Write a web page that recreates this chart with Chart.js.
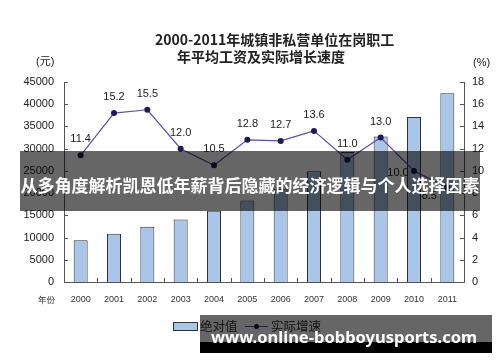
<!DOCTYPE html>
<html>
<head>
<meta charset="utf-8">
<script src="https://cdn.jsdelivr.net/npm/chart.js@4"></script>
<style>
  html, body { margin: 0; padding: 0; background: #fff; }
  #wrap { position: relative; width: 500px; height: 362px; overflow: hidden; }
  canvas { position: absolute; left: 0; top: 0; }
  .t { position: absolute; white-space: nowrap; color: #222; font-family: "Noto Sans CJK SC", sans-serif; }
</style>
</head>
<body>
<div id="wrap">
  <canvas id="c" width="500" height="362"></canvas>
  <div class="t" id="title1" style="left:155px; top:30px; font-size:14px; font-weight:bold; line-height:18px;">2000-2011年城镇非私营单位在岗职工</div>
  <div class="t" id="title2" style="left:177px; top:47px; font-size:14px; font-weight:bold; line-height:18px;">年平均工资及实际增长速度</div>
  <div class="t" style="left:36px; top:54px; font-size:11px; line-height:14px; font-family:'Liberation Sans','Noto Sans CJK SC',sans-serif;">(元)</div>
  <div class="t" style="left:473px; top:55px; font-size:11px; line-height:14px; font-family:'Liberation Sans',sans-serif;">(%)</div>
  <div class="t" style="left:38px; top:293px; font-size:8.5px; line-height:12px; color:#333;">年份</div>
  <!-- legend -->
  <div style="position:absolute; left:173px; top:322px; width:23px; height:7px; background:#a9c6e8; border:1px solid #333;"></div>
  <div class="t" id="lg1" style="left:200px; top:318px; font-size:12.5px; line-height:16px; color:#333;">绝对值</div>
  <div style="position:absolute; left:245px; top:326px; width:23px; height:1px; background:#5b4ea8;"></div>
  <div style="position:absolute; left:254px; top:324px; width:5px; height:5px; border-radius:50%; background:#1e1a55;"></div>
  <div class="t" id="lg2" style="left:271px; top:318px; font-size:12.5px; line-height:16px; color:#333;">实际增速</div>
  <!-- overlays -->
  <div id="banner" style="position:absolute; left:20px; top:151px; width:460px; height:60px; background:rgba(0,0,0,0.6);"></div>
  <div class="t" id="bannerText" style="left:20px; top:175px; width:460px; text-align:center; color:#fff; font-size:17px; font-weight:bold; line-height:20px;">从多角度解析凯恩低年薪背后隐藏的经济逻辑与个人选择因素</div>
  <div style="position:absolute; left:200px; top:315px; width:292px; height:27px; background:rgba(0,0,0,0.6);"></div>
  <div style="position:absolute; left:200px; top:342px; width:292px; height:11px; background:#000;"></div>
  <div class="t" id="wm" style="left:210px; top:326px; width:268px; text-align:center; color:#fff; font-size:16.5px; font-weight:bold; line-height:22px; font-family:'Noto Sans','Open Sans',sans-serif;">www.online-bobboyusports.com</div>
</div>
<script>
const years = ['2000','2001','2002','2003','2004','2005','2006','2007','2008','2009','2010','2011'];
const wages = [9371, 10870, 12422, 14040, 16024, 18364, 21001, 24932, 29229, 32736, 37147, 42452];
const growth = [11.4, 15.2, 15.5, 12.0, 10.5, 12.8, 12.7, 13.6, 11.0, 13.0, 10.0, 8.5];
const leftTicks = [0, 5000, 10000, 15000, 20000, 25000, 30000, 35000, 40000, 45000];
const rightTicks = [0, 2, 4, 6, 8, 10, 12, 14, 16, 18];

const axisColor = '#555';

const axesPlugin = {
  id: 'axesPlugin',
  afterDraw(chart) {
    const ctx = chart.ctx;
    const {left, right, top, bottom} = chart.chartArea;
    const y = chart.scales.y, y1 = chart.scales.y1, x = chart.scales.x;
    ctx.save();
    ctx.strokeStyle = axisColor;
    ctx.lineWidth = 1;
    ctx.beginPath();
    ctx.moveTo(left + 0.5, top); ctx.lineTo(left + 0.5, bottom + 0.5);
    ctx.lineTo(right + 0.5, bottom + 0.5);
    ctx.moveTo(right + 0.5, top); ctx.lineTo(right + 0.5, bottom + 0.5);
    leftTicks.forEach(v => {
      const py = Math.round(y.getPixelForValue(v)) + 0.5;
      ctx.moveTo(left, py); ctx.lineTo(left + 4, py);
    });
    rightTicks.forEach(v => {
      const py = Math.round(y1.getPixelForValue(v)) + 0.5;
      ctx.moveTo(right - 4, py); ctx.lineTo(right + 1, py);
    });
    for (let i = 0; i <= years.length; i++) {
      const px = Math.round(x.getPixelForValue(i - 0.5)) + 0.5;
      ctx.moveTo(px, bottom); ctx.lineTo(px, bottom - 4);
    }
    ctx.stroke();
    ctx.restore();
  }
};

const labelPlugin = {
  id: 'labelPlugin',
  afterDatasetsDraw(chart) {
    const ctx = chart.ctx;
    const meta = chart.getDatasetMeta(1);
    const special = { 10: [-16, 2], 11: [-18, 8] };
    ctx.save();
    ctx.fillStyle = '#222';
    ctx.font = '11px "Liberation Sans", Arial, sans-serif';
    ctx.textAlign = 'center';
    ctx.textBaseline = 'middle';
    meta.data.forEach((pt, i) => {
      const off = special[i] || [0, -16];
      ctx.fillText(growth[i].toFixed(1), pt.x + off[0], pt.y + off[1]);
    });
    ctx.restore();
  }
};

new Chart(document.getElementById('c'), {
  data: {
    labels: years,
    datasets: [
      {
        type: 'bar',
        label: '绝对值',
        data: wages,
        yAxisID: 'y',
        backgroundColor: '#a9c6e8',
        borderColor: '#333',
        borderWidth: 1,
        barPercentage: 0.42,
        categoryPercentage: 1,
        order: 1
      },
      {
        type: 'line',
        label: '实际增速',
        data: growth,
        yAxisID: 'y1',
        borderColor: '#5b4ea8',
        borderWidth: 1.2,
        pointRadius: 3,
        pointBackgroundColor: '#1e1a55',
        pointBorderWidth: 0,
        tension: 0,
        order: 0
      }
    ]
  },
  options: {
    responsive: false,
    animation: false,
    events: [],
    layout: { padding: { top: 82, left: 0, right: 0, bottom: 0 } },
    plugins: { legend: { display: false }, tooltip: { enabled: false }, title: { display: false } },
    scales: {
      x: {
        type: 'category',
        offset: true,
        grid: { display: false, drawTicks: false },
        border: { display: false },
        ticks: { color: '#333', font: { size: 9, family: '"Liberation Sans", Arial, sans-serif' }, padding: 12, maxRotation: 0, autoSkip: false },
        afterFit(s) { s.height = 80; }
      },
      y: {
        position: 'left',
        min: 0, max: 45000,
        grid: { display: false, drawTicks: false },
        border: { display: false },
        ticks: { stepSize: 5000, color: '#222', font: { size: 11, family: '"Liberation Sans", Arial, sans-serif' }, padding: 10, callback: v => String(v) },
        afterFit(s) { s.width = 64; }
      },
      y1: {
        position: 'right',
        min: 0, max: 18,
        grid: { display: false, drawTicks: false },
        border: { display: false },
        ticks: { stepSize: 2, color: '#222', font: { size: 11, family: '"Liberation Sans", Arial, sans-serif' }, padding: 8, callback: v => String(v) },
        afterFit(s) { s.width = 36; }
      }
    }
  },
  plugins: [axesPlugin, labelPlugin]
});
</script>
</body>
</html>
